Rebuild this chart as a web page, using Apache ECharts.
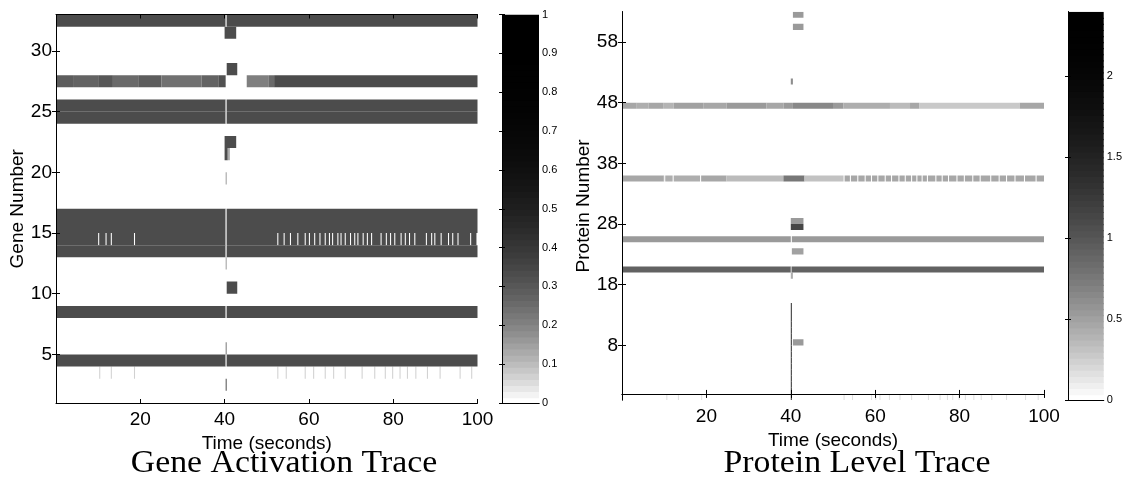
<!DOCTYPE html>
<html><head><meta charset="utf-8">
<script src="https://cdn.jsdelivr.net/npm/echarts@6/dist/echarts.min.js"></script>
<style>html,body{margin:0;padding:0;background:#fff}#main{width:1125px;height:480px}</style>
</head><body><div id="main"></div>
<script>
// ================= DATA =================
const timeStep = 0.25;          // sampling step of the traces (s)
const timeEnd = 100;
const timeTicks = [20, 40, 60, 80, 100];

// ---- Gene activation trace (left) ----
const geneRowMin = 1, geneRowMax = 33;
const geneTicks = [5, 10, 15, 20, 25, 30];
const geneColorMax = 1;
const geneColorTicks = [0, 0.1, 0.2, 0.3, 0.4, 0.5, 0.6, 0.7, 0.8, 0.9, 1];
const geneSolidRows = [4, 8, 13, 14, 15, 16, 24, 25, 32];
const geneSolidLevel = 0.34;
const geneDip = [40.25, 40.5, 0.03];
// gene 27: [t0, t1, level]
const geneRow27 = [[0, 4.25, 0.28], [4.25, 10, 0.265], [10, 13.5, 0.3], [13.5, 19.5, 0.25],
  [19.5, 25, 0.28], [25, 34.5, 0.24], [34.5, 38.5, 0.265], [38.5, 40.25, 0.31],
  [45.25, 50.5, 0.206], [50.5, 51.75, 0.25], [51.75, 100, 0.33]];
const geneRow14Gaps = [9.9, 11.8, 12.9, 18.4, 52.5, 54.0, 55.6, 57.2, 59.0, 60.0, 61.2, 62.6,
  63.7, 64.7, 65.5, 66.7, 67.5, 68.5, 69.7, 70.7, 71.6, 72.7, 73.8, 74.8, 77.0, 78.2, 79.2,
  80.3, 81.8, 82.8, 83.7, 84.9, 87.7, 88.9, 89.7, 91.3, 92.9, 94.0, 95.2, 98.2, 99.75];
const geneRow3Ticks = [10.3, 13.1, 18.6, 52.6, 54.4, 59.0, 61.0, 63.8, 65.8, 68.5, 72.4,
  75.4, 78.0, 79.8, 81.4, 83.3, 85.3, 88.1, 91.0, 95.8, 98.5];
const geneRow3Level = 0.07;
// [gene, t0, t1, level]
const geneBursts = [[31, 40.0, 42.75, 0.34], [28, 40.5, 43.0, 0.34], [22, 40.0, 42.75, 0.34],
  [21, 40.0, 40.75, 0.34], [21, 40.75, 41.25, 0.12], [19, 40.25, 40.5, 0.15],
  [12, 40.25, 40.5, 0.15], [10, 40.5, 43.0, 0.34], [5, 40.25, 40.5, 0.2], [2, 40.25, 40.5, 0.3]];

// ---- Protein level trace (right) ----
const proteinRowMin = -1, proteinRowMax = 63;
const proteinTicks = [8, 18, 28, 38, 48, 58];
const proteinColorMax = 2.4;
const proteinColorTicks = [0, 0.5, 1, 1.5, 2];
const proteinRow20Level = 0.93;
const proteinRow25Level = 0.54;
const proteinRow47 = [[0, 3.5, 0.44], [3.5, 6.25, 0.41], [6.25, 9.75, 0.45], [9.75, 12.25, 0.39],
  [12.25, 19.25, 0.5], [19.25, 24.75, 0.44], [24.75, 34.25, 0.54], [34.25, 38.25, 0.44],
  [38.25, 40.5, 0.54], [40.5, 50, 0.65], [50, 52.5, 0.54], [52.5, 63.5, 0.41],
  [63.5, 68.25, 0.36], [68.25, 70.5, 0.44], [70.5, 94.25, 0.27], [94.25, 100, 0.44]];
const proteinRow35 = [[0, 9.75, 0.44], [9.75, 18.5, 0.41], [18.5, 24.75, 0.44],
  [24.75, 38.25, 0.36], [38.25, 43.25, 0.76], [43.25, 52.5, 0.32], [52.5, 100, 0.44]];
const proteinRow35Gaps = [10.0, 12.0, 18.5, 52.4, 54.0, 55.8, 57.6, 59.0, 60.5, 62.3, 63.7,
  65.5, 67.1, 68.4, 69.8, 71.0, 72.2, 74.2, 75.7, 77.3, 79.3, 80.9, 82.9, 84.8, 87.2, 89.2,
  91.0, 93.1, 95.3, 97.9];
const proteinBottomTicks = [10.4, 13.3, 18.8, 52.6, 54.4, 59.1, 59.9, 60.9, 63.3, 65.7, 68.4,
  72.4, 75.3, 76.9, 78.3, 79.8, 81.2, 83.2, 85.0, 87.6, 91.1, 95.5, 98.4];
const proteinBottomLevel = 0.17;
// [protein, t0, t1, level]
const proteinBursts = [[62, 40.5, 43.0, 0.54], [60, 40.5, 43.0, 0.54], [51, 40.0, 40.5, 0.6],
  [28, 40.0, 43.0, 0.54], [27, 40.0, 43.0, 1.16], [25, 40.0, 40.25, 0], [23, 40.25, 43.0, 0.5],
  [20, 40.0, 40.25, 0.35], [19, 40.0, 40.5, 0.4], [8, 40.5, 43.0, 0.54]];
const proteinSpikeRows = [-1, 14];   // rows hit by the thin spike at t = 40
const proteinSpike = [40.0, 40.25, 1.3];

// ================= BUILD =================
const nCols = Math.round(timeEnd / timeStep);
function makeMatrix(rMin, rMax) {
  const m = {};
  for (let r = rMin; r < rMax; r++) m[r] = new Array(nCols).fill(0);
  return m;
}
function put(m, row, t0, t1, v) {
  const c0 = Math.round(t0 / timeStep), c1 = Math.max(c0 + 1, Math.round(t1 / timeStep));
  for (let c = c0; c < Math.min(c1, nCols); c++) m[row][c] = v;
}
function runs(m) {
  const out = [];
  Object.keys(m).forEach(k => {
    const row = +k, a = m[k];
    let c = 0;
    while (c < nCols) {
      const v = a[c];
      let e = c + 1;
      while (e < nCols && a[e] === v) e++;
      if (v > 0) out.push([c * timeStep, e * timeStep, row, v]);
      c = e;
    }
  });
  return out;
}

const gm = makeMatrix(geneRowMin, geneRowMax);
geneSolidRows.forEach(r => put(gm, r, 0, timeEnd, geneSolidLevel));
geneRow27.forEach(s => put(gm, 27, s[0], s[1], s[2]));
geneSolidRows.forEach(r => put(gm, r, geneDip[0], geneDip[1], geneDip[2]));
geneRow14Gaps.forEach(t => put(gm, 14, t, t + timeStep, 0));
geneRow3Ticks.forEach(t => put(gm, 3, t, t + timeStep, geneRow3Level));
geneBursts.forEach(b => put(gm, b[0], b[1], b[2], b[3]));
const geneRuns = runs(gm);

const pm = makeMatrix(proteinRowMin, proteinRowMax);
put(pm, 20, 0, timeEnd, proteinRow20Level);
put(pm, 25, 0, timeEnd, proteinRow25Level);
proteinRow47.forEach(s => put(pm, 47, s[0], s[1], s[2]));
proteinRow35.forEach(s => put(pm, 35, s[0], s[1], s[2]));
proteinRow35Gaps.forEach(t => put(pm, 35, t, t + timeStep, 0));
proteinBottomTicks.forEach(t => put(pm, -1, t, t + timeStep, proteinBottomLevel));
for (let r = proteinSpikeRows[0]; r <= proteinSpikeRows[1]; r++) put(pm, r, proteinSpike[0], proteinSpike[1], proteinSpike[2]);
proteinBursts.forEach(b => put(pm, b[0], b[1], b[2], b[3]));
const proteinRuns = runs(pm);

// colormaps (64-level reversed gray with gamma)
const nLevels = 64;
function grayFn(max, gamma) {
  return v => {
    const k = Math.round(Math.min(Math.max(v / max, 0), 1) * (nLevels - 1));
    const g = Math.round(255 * Math.pow(1 - k / (nLevels - 1), gamma));
    return 'rgb(' + g + ',' + g + ',' + g + ')';
  };
}
const geneGray = grayFn(geneColorMax, 3);
const proteinGray = grayFn(proteinColorMax, 2);
const barLevels = Array.from({length: nLevels}, (_, k) => [k]);

// ================= CHART =================
const chart = echarts.init(document.getElementById('main'));
const FONT = 'Liberation Sans';

function cellRender(cmap) {
  return function (params, api) {
    const a = api.coord([api.value(0), api.value(2) + 1]);
    const b = api.coord([api.value(1), api.value(2)]);
    return {type: 'rect', shape: {x: a[0], y: a[1], width: b[0] - a[0], height: b[1] - a[1]},
      style: {fill: cmap(api.value(3))}};
  };
}
function barRender(cmap, max) {
  return function (params, api) {
    const k = api.value(0);
    const y0 = k / nLevels * max, y1 = (k + 1) / nLevels * max;
    const a = api.coord([0, y1]);
    const b = api.coord([1, y0]);
    const g = cmap(k / (nLevels - 1) * max);
    const extra = k > 0 ? 1.2 : 0;
    return {type: 'rect', shape: {x: a[0], y: a[1], width: b[0] - a[0], height: b[1] - a[1] + extra},
      style: {fill: g}, z2: k};
  };
}
const line = {show: true, lineStyle: {color: '#000', width: 1}};
const nameStyle = {fontSize: 19, color: '#000', fontFamily: FONT};
function xMain(grid, pos, withLabels, name) {
  return {gridIndex: grid, type: 'value', min: 0, max: timeEnd, position: pos, z: 5,
    axisLine: line, splitLine: {show: false},
    axisTick: {show: true, inside: true, length: 4, customValues: timeTicks, lineStyle: {color: '#000'}},
    axisLabel: {show: withLabels, customValues: timeTicks, fontSize: 19, color: '#000', fontFamily: FONT, margin: 7},
    name: name || '', nameLocation: 'middle', nameGap: 25, nameTextStyle: nameStyle};
}
function yMain(grid, pos, min, max, ticks, withLabels, name, gap) {
  return {gridIndex: grid, type: 'value', min: min, max: max, position: pos, z: 5,
    axisLine: line, splitLine: {show: false},
    axisTick: {show: true, inside: true, length: 4, customValues: ticks, lineStyle: {color: '#000'}},
    axisLabel: {show: withLabels, customValues: ticks, fontSize: 19, color: '#000', fontFamily: FONT, margin: 4},
    name: name || '', nameLocation: 'middle', nameGap: gap || 30, nameTextStyle: nameStyle};
}
function xBar(grid, pos) {
  return {gridIndex: grid, type: 'value', min: 0, max: 1, position: pos, z: 5,
    axisLine: line, axisTick: {show: false}, axisLabel: {show: false}, splitLine: {show: false}};
}
function yBar(grid, pos, max, ticks, withLabels) {
  return {gridIndex: grid, type: 'value', min: 0, max: max, position: pos, z: 5,
    axisLine: line, splitLine: {show: false},
    axisTick: {show: true, inside: true, length: 3, customValues: ticks, lineStyle: {color: '#000'}},
    axisLabel: {show: withLabels, customValues: ticks, fontSize: 11, color: '#000', fontFamily: FONT, margin: 3}};
}

chart.setOption({
  animation: false,
  backgroundColor: '#fff',
  grid: [
    {left: 56, top: 14.5, width: 421.5, height: 388.5},
    {left: 502, top: 14.5, width: 37, height: 388.5},
    {left: 622, top: 11.7, width: 422, height: 388.3},
    {left: 1068, top: 11.7, width: 37.5, height: 388.3}
  ],
  xAxis: [
    xMain(0, 'bottom', true, 'Time (seconds)'), xMain(0, 'top', false),
    xBar(1, 'bottom'), xBar(1, 'top'),
    xMain(2, 'bottom', true, 'Time (seconds)'), xMain(2, 'top', false),
    xBar(3, 'bottom'), xBar(3, 'top')
  ],
  yAxis: [
    yMain(0, 'left', geneRowMin, geneRowMax, geneTicks, true, 'Gene Number', 27),
    yMain(0, 'right', geneRowMin, geneRowMax, geneTicks, false),
    yBar(1, 'right', geneColorMax, geneColorTicks, true), yBar(1, 'left', geneColorMax, geneColorTicks, false),
    yMain(2, 'left', proteinRowMin, proteinRowMax, proteinTicks, true, 'Protein Number', 28),
    yMain(2, 'right', proteinRowMin, proteinRowMax, proteinTicks, false),
    yBar(3, 'right', proteinColorMax, proteinColorTicks, true), yBar(3, 'left', proteinColorMax, proteinColorTicks, false)
  ],
  series: [
    {type: 'custom', xAxisIndex: 0, yAxisIndex: 0, data: geneRuns, clip: true, renderItem: cellRender(geneGray)},
    {type: 'custom', xAxisIndex: 2, yAxisIndex: 2, data: barLevels, clip: true, renderItem: barRender(geneGray, geneColorMax)},
    {type: 'custom', xAxisIndex: 4, yAxisIndex: 4, data: proteinRuns, clip: true, renderItem: cellRender(proteinGray)},
    {type: 'custom', xAxisIndex: 6, yAxisIndex: 6, data: barLevels, clip: true, renderItem: barRender(proteinGray, proteinColorMax)}
  ],
  graphic: [
    {type: 'text', x: 284, y: 464, scaleX: 1.09, style: {text: 'Gene Activation Trace', font: '31px "Liberation Serif"', fill: '#000', align: 'center', verticalAlign: 'middle'}},
    {type: 'text', x: 857, y: 464, scaleX: 1.09, style: {text: 'Protein Level Trace', font: '31px "Liberation Serif"', fill: '#000', align: 'center', verticalAlign: 'middle'}}
  ]
});
</script></body></html>
